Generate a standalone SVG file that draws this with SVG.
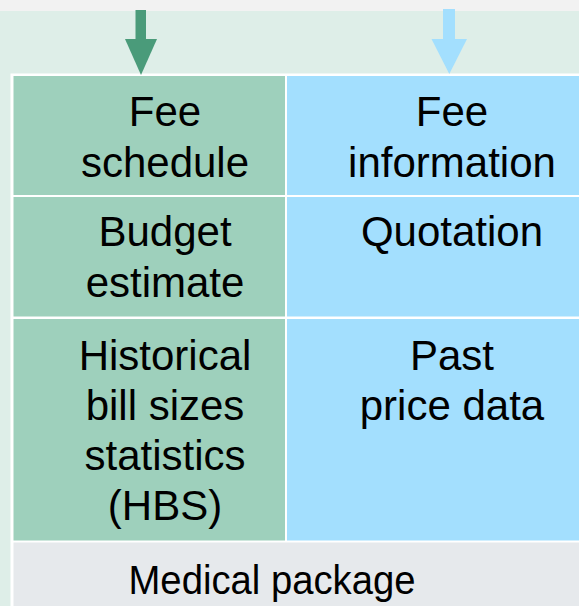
<svg xmlns="http://www.w3.org/2000/svg" width="579" height="606" viewBox="0 0 579 606">
  <style>
    .t { font-family: "Liberation Sans", Arial, sans-serif; font-size: 42px; fill: #000; text-anchor: middle; }
    .g { fill: #9ed0bc; }
    .b { fill: #a3dffe; }
    .p { fill: #e6e9ec; }
  </style>
  <rect x="0" y="0" width="579" height="606" fill="#deeee8"/>
  <rect x="0" y="0" width="579" height="11" fill="#f2f2f2"/>
  <rect x="10.5" y="73.5" width="568.5" height="532.5" fill="#ffffff"/>

  <g id="connectors">
    <g id="arrow-green" fill="#4a9b7a">
      <rect x="135.5" y="10" width="10.5" height="30"/>
      <polygon points="125,39 157,39 141,75"/>
    </g>
    <g id="arrow-blue" fill="#a3dffe">
      <rect x="443" y="9" width="12" height="31"/>
      <polygon points="431.5,39 467,39 449.3,74"/>
    </g>
  </g>

  <g id="fee-schedule">
    <rect class="g" x="13.5" y="76" width="271.5" height="119"/>
    <text class="t" x="165" y="126">Fee</text>
    <text class="t" x="165" y="177">schedule</text>
  </g>
  <g id="fee-information">
    <rect class="b" x="287" y="76" width="292" height="119"/>
    <text class="t" x="452" y="126">Fee</text>
    <text class="t" x="452" y="177">information</text>
  </g>
  <g id="budget-estimate">
    <rect class="g" x="13.5" y="197" width="271.5" height="119.5"/>
    <text class="t" x="165" y="246">Budget</text>
    <text class="t" x="165" y="297">estimate</text>
  </g>
  <g id="quotation">
    <rect class="b" x="287" y="197" width="292" height="119.5"/>
    <text class="t" x="452" y="246">Quotation</text>
  </g>
  <g id="hbs">
    <rect class="g" x="13.5" y="319" width="271.5" height="221.5"/>
    <text class="t" x="165" y="370">Historical</text>
    <text class="t" x="165" y="420">bill sizes</text>
    <text class="t" x="165" y="470">statistics</text>
    <text class="t" x="165" y="520">(HBS)</text>
  </g>
  <g id="past-price-data">
    <rect class="b" x="287" y="319" width="292" height="221.5"/>
    <text class="t" x="452" y="369.5">Past</text>
    <text class="t" x="452" y="420">price data</text>
  </g>
  <g id="medical-package">
    <rect class="p" x="13.5" y="542.5" width="565.5" height="63.5"/>
    <text class="t" x="272" y="593.5" style="font-size:41px" textLength="287" lengthAdjust="spacingAndGlyphs">Medical package</text>
  </g>
</svg>
